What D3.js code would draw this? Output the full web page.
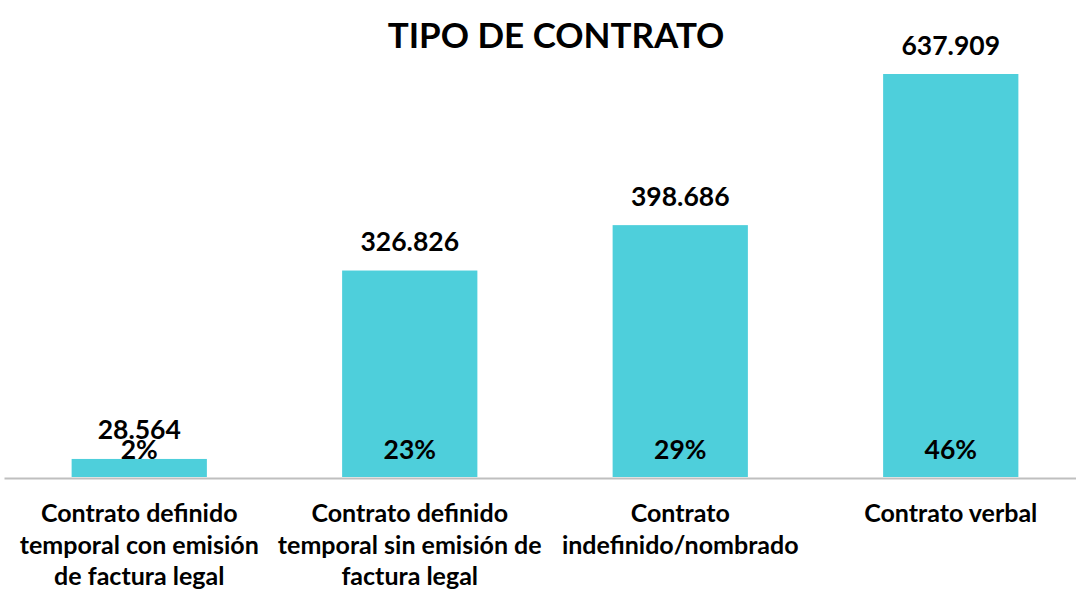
<!DOCTYPE html>
<html lang="es">
<head>
    <meta charset="utf-8">
    <title>Tipo de contrato</title>
    <script src="https://d3js.org/d3.v7.min.js"></script>
    <style>
        html, body { margin: 0; padding: 0; background: #fff; }
        svg text { font-family: "Lato", "Open Sans", sans-serif; font-weight: bold; fill: #000; }
    </style>
</head>
<body>
    <svg id="chart"></svg>
    <script>
        var categories = [
            "Contrato definido\ntemporal con emisión\nde factura legal",
            "Contrato definido\ntemporal sin emisión de\nfactura legal",
            "Contrato\nindefinido/nombrado",
            "Contrato verbal"
        ];
        var values = [28564, 326826, 398686, 637909];
        var percents = ["2%", "23%", "29%", "46%"];

        var width = 1076;
        var height = 591;
        var baseline = 477;

        var svg = d3.select("#chart")
            .attr("width", width)
            .attr("height", height);

        var x = d3.scaleBand()
            .domain(d3.range(categories.length))
            .range([4, 1086])
            .paddingInner(0.5)
            .paddingOuter(0.25);

        var y = d3.scaleLinear()
            .domain([0, 637909])
            .range([baseline, 74]);

        var fmt = function (v) { return d3.format(",")(v).replace(/,/g, "."); };

        // title
        svg.append("text")
            .attr("x", 556)
            .attr("y", 48)
            .attr("text-anchor", "middle")
            .style("font-size", "35px")
            .text("TIPO DE CONTRATO");

        // bars
        svg.selectAll("rect.bar")
            .data(values)
            .enter()
            .append("rect")
            .attr("class", "bar")
            .attr("x", function (d, i) { return x(i); })
            .attr("width", x.bandwidth())
            .attr("y", function (d) { return y(d); })
            .attr("height", function (d) { return baseline - y(d); })
            .attr("fill", "#4ecfdb");

        // axis line
        var axis = svg.append("g")
            .attr("transform", "translate(0," + (baseline + 1) + ")")
            .call(d3.axisBottom(x).tickSize(0).tickFormat(""));
        axis.select(".domain")
            .attr("stroke", "#bfbfbf")
            .attr("stroke-width", 2);

        // value labels
        svg.selectAll("text.value")
            .data(values)
            .enter()
            .append("text")
            .attr("class", "value")
            .attr("x", function (d, i) { return x(i) + x.bandwidth() / 2; })
            .attr("y", function (d) { return y(d) - 19.5; })
            .attr("text-anchor", "middle")
            .style("font-size", "26.5px")
            .text(fmt);

        // percent labels
        svg.selectAll("text.pct")
            .data(percents)
            .enter()
            .append("text")
            .attr("class", "pct")
            .attr("x", function (d, i) { return x(i) + x.bandwidth() / 2; })
            .attr("y", 459)
            .attr("text-anchor", "middle")
            .style("font-size", "26.5px")
            .text(function (d) { return d; });

        // category labels
        var cats = svg.selectAll("text.cat")
            .data(categories)
            .enter()
            .append("text")
            .attr("class", "cat")
            .attr("text-anchor", "middle")
            .style("font-size", "25px");

        cats.each(function (d, i) {
            var t = d3.select(this);
            d.split("\n").forEach(function (line, j) {
                t.append("tspan")
                    .attr("x", x(i) + x.bandwidth() / 2)
                    .attr("y", 522 + j * 31.5)
                    .text(line);
            });
        });
    </script>
</body>
</html>
